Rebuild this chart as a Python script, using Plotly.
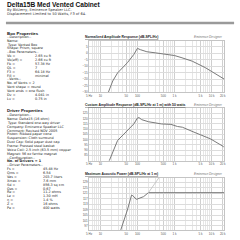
import math
import plotly.graph_objects as go

# ---------------- data ----------------
norm_freq = [15, 16, 21.6, 29.2, 35.7, 53.6, 80, 100, 120, 180, 300, 600, 1000, 1500, 3000, 6800, 12000, 18600, 22000]
norm_db = [-33, -31, -21.4, -15.2, -12.5, -7.4, -1.1, 3.6, 2.6, 1.0, 0.2, -0.9, -1.9, -3.4, -6.2, -11.2, -15.5, -18.8, -20]

cust_freq = [16, 17.6, 29.2, 48.3, 65.5, 80, 100, 110, 130, 200, 450, 800, 1200, 1630, 3360, 9250, 20700, 22000]
cust_db = [78, 80.3, 99.2, 107.1, 111.0, 114.9, 120.5, 121.0, 119.0, 117.0, 114.9, 114.5, 112.5, 111.8, 107.1, 100.8, 93.5, 92.5]

pow_freq = [34, 35.7, 53.6, 65.5, 69.5, 75, 94, 147, 198, 500, 1000, 5000, 22000]
pow_db = [93, 94.2, 108.7, 118.5, 119.6, 119.2, 116.5, 118.5, 121.4, 121.4, 121.4, 121.4, 121.4]

disp_freq = [198, 430, 600]
disp_db = [121.4, 134.2, 140]

xtick_vals = [5, 10, 50, 100, 500, 1000, 5000, 10000, 20000]
xtick_text = ["5 Hz", "10", "50", "100", "500", "1 k", "5 k", "10 k", "20 k"]

norm_ticks = [5, 0, -5, -10, -15, -20, -25, -30]
cust_ticks = [125, 120, 115, 110, 105, 100, 95, 90, 85]
pow_ticks = [129, 125, 121, 117, 113, 109, 105, 101, 97]

plot_titles = [
    "Normalized Amplitude Response (dB-SPL/Hz)",
    "Custom Amplitude Response (dB-SPL/Hz at 1 m) with 50 watts",
    "Maximum Acoustic Power (dB-SPL/Hz at 1 m)",
]

doc_title = "Delta15B Med Vented Cabinet"
doc_sub = ["By BkUerry, Eminence Speaker LLC.", "Displacement Limited to 50 Watts, F3 of 64."]

box_lines = [
    ("--Description--", ""), ("Name:", ""), ("Type: Vented Box", ""), ("Shape: Prism, square", ""),
    ("--Box Parameters--", ""), ("Vb =", "2.65 cu ft"), ("Vb(eff) =", "2.66 cu ft"), ("Fb =", "57.38 Hz"),
    ("QL =", "7"), ("F3 =", "64.18 Hz"), ("Fill =", "minimal"), ("--Vents--", ""),
    ("No. of Vents = 2", ""), ("Vent shape = round", ""), ("Vent ends = one flush", ""),
    ("Dv =", "4.041 in"), ("Lv =", "0.75 in"),
]
driver_lines = [
    ("--Description--", ""), ("Name: Delta15 (16 ohm)", ""), ("Type: Standard one-way driver", ""),
    ("Company: Eminence Speaker LLC", ""), ("Comment: Revised NOV 2005", ""),
    ("Piston: Ribbed paper cone", ""), ("Suspension: Cloth surround", ""),
    ("Dust Cap: Solid paper dust cap", ""), ("Frame: Pressed steel basket", ""),
    ("Voice Coil: 2.5 inch (63.5 mm) copper", ""), ("Magnet: 56 oz ferrite magnet", ""),
    ("--Configuration--", ""), ("<b>No. of Drivers = 1</b>", ""), ("--Driver Parameters--", ""),
    ("Fs =", "45.48 Hz"), ("Qms =", "6.54"), ("Vas =", "203.7 liters"), ("Xmax =", "7.6 mm"),
    ("Sd =", "856.3 sq cm"), ("Qes =", "0.67"), ("Re =", "11.2 ohms"), ("Le =", "1.30 mH"),
    ("η =", "1.4 %"), ("Z =", "16 ohms"), ("Pe =", "400 watts"),
]

# ---------------- layout helpers ----------------
W = H = 240
def px(x):
    return x / W
def py(y):
    return 1 - y / H

FONT = "Liberation Sans, Arial, sans-serif"
LFONT = "DejaVu Sans, sans-serif"
LINE = "#7a7a7a"

minor_vals = [m * 10 ** d for d in range(0, 5) for m in range(1, 10)
              if 5 <= m * 10 ** d <= 22000 and m * 10 ** d not in xtick_vals]

plots = [
    dict(x=norm_freq, y=norm_db, rng=[-30, 9.5], ticks=norm_ticks, top=41, bot=93),
    dict(x=cust_freq, y=cust_db, rng=[80, 130], ticks=cust_ticks, top=109, bot=162),
    dict(x=pow_freq, y=pow_db, rng=[94, 132.5], ticks=pow_ticks, top=179, bot=232),
]

fig = go.Figure()
annotations = []
X0, X1 = 88, 226

for i, p in enumerate(plots):
    n = "" if i == 0 else str(i + 1)
    xa, ya = "x" + n, "y" + n
    fig.add_trace(go.Scatter(x=p["x"], y=p["y"], mode="lines", xaxis=xa, yaxis=ya,
                             line=dict(color=LINE, width=1), showlegend=False, hoverinfo="skip"))
    axis_common = dict(showline=True, mirror=True, linecolor="#c4c4c4", linewidth=0.7,
                       ticks="", zeroline=False, tickfont=dict(size=3, family=FONT, color="#555"))
    fig.update_layout(**{
        "xaxis" + n: dict(type="log", range=[math.log10(5), math.log10(22000)],
                          domain=[px(X0), px(X1)], anchor=ya,
                          tickvals=xtick_vals, ticktext=xtick_text,
                          showgrid=True, gridcolor="#cfcfcf", gridwidth=0.6,
                          minor=dict(tickvals=minor_vals, showgrid=True, gridcolor="#e6e6e6", gridwidth=0.5),
                          **axis_common),
        "yaxis" + n: dict(range=p["rng"], domain=[py(p["bot"]), py(p["top"])], anchor=xa,
                          tickvals=p["ticks"], showgrid=True, gridcolor="#dcdcdc", gridwidth=0.6,
                          **axis_common),
    })
    annotations.append(dict(x=px(83), y=py(p["top"] - 3.5), xref="paper", yref="paper",
                            text="<b><u>" + plot_titles[i] + "</u></b>", showarrow=False,
                            xanchor="left", yanchor="middle", borderpad=0,
                            font=dict(size=3.4, family=FONT, color="#222")))
    annotations.append(dict(x=px(226), y=py(p["top"] - 3.5), xref="paper", yref="paper",
                            text="<i>Eminence Designer</i>", showarrow=False,
                            xanchor="right", yanchor="middle", borderpad=0,
                            font=dict(size=3.2, family=FONT, color="#777")))

fig.add_trace(go.Scatter(x=disp_freq, y=disp_db, mode="lines", xaxis="x3", yaxis="y3",
                         line=dict(color="#bdbdbd", width=0.8), showlegend=False, hoverinfo="skip"))

# document text
annotations.append(dict(x=px(3), y=py(4.6), xref="paper", yref="paper", text="<b>" + doc_title + "</b>",
                        showarrow=False, xanchor="left", yanchor="middle", borderpad=0,
                        font=dict(size=6.6, family=FONT, color="#111")))
for k, s in enumerate(doc_sub):
    annotations.append(dict(x=px(3), y=py(10.0 + 4.2 * k), xref="paper", yref="paper", text=s,
                            showarrow=False, xanchor="left", yanchor="middle", borderpad=0,
                            font=dict(size=3.6, family=LFONT, color="#333")))

def section(title, ty, lines, y0, vx):
    annotations.append(dict(x=px(3), y=py(ty), xref="paper", yref="paper", text="<b>" + title + "</b>",
                            showarrow=False, xanchor="left", yanchor="middle", borderpad=0,
                            font=dict(size=4.4, family=FONT, color="#111")))
    for k, (lab, val) in enumerate(lines):
        yy = y0 + 3.9 * k
        annotations.append(dict(x=px(3), y=py(yy), xref="paper", yref="paper", text=lab,
                                showarrow=False, xanchor="left", yanchor="middle", borderpad=0,
                                font=dict(size=3.4, family=LFONT, color="#222")))
        if val:
            annotations.append(dict(x=px(vx), y=py(yy), xref="paper", yref="paper", text=val,
                                    showarrow=False, xanchor="left", yanchor="middle", borderpad=0,
                                    font=dict(size=3.4, family=LFONT, color="#222")))

section("Box Properties", 33.3, box_lines, 37.2, 32)
section("Driver Properties", 111.7, driver_lines, 116, 40)

fig.update_layout(
    width=W, height=H, margin=dict(l=0, r=0, t=0, b=0),
    paper_bgcolor="white", plot_bgcolor="white",
    annotations=annotations,
    shapes=[dict(type="line", xref="paper", yref="paper", x0=px(3), x1=px(236), y0=py(23.3), y1=py(23.3),
                 line=dict(color="#9a9a9a", width=2.5))],
)

fig.write_html("out.html")
